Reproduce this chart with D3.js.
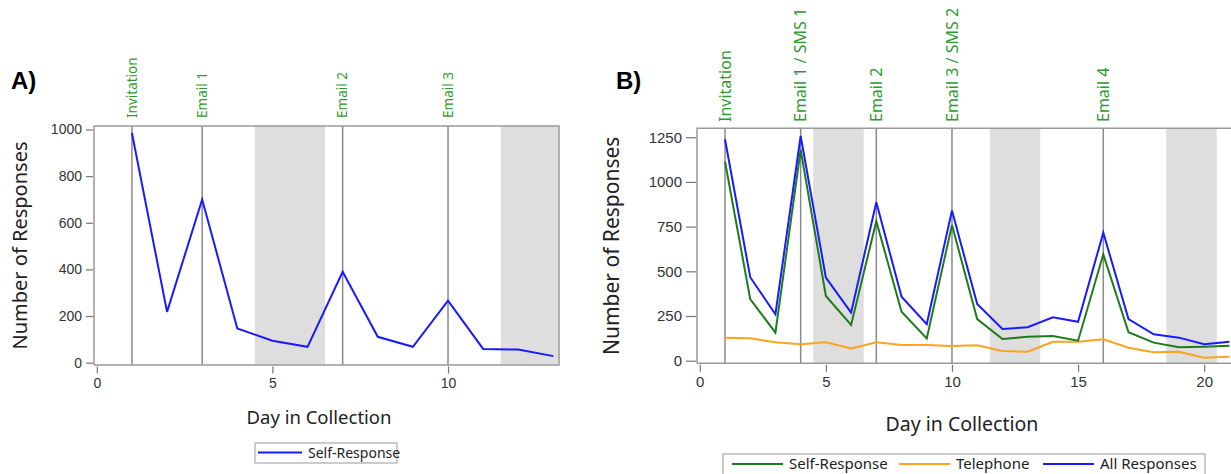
<!DOCTYPE html>
<html lang="en">
<head>
    <meta charset="UTF-8">
    <title>Responses by day in collection</title>
    <script src="https://cdn.jsdelivr.net/npm/d3@7"></script>
    <style>
        body { margin: 0; background: white; }
        svg { display: block; font-family: "Noto Sans", "Open Sans", sans-serif; }
        .tick text { fill: #333; }
        .event-label { fill: #2f9a2f; }
    </style>
</head>
<body>
<svg id="chart" width="1231" height="474"></svg>
<script>
    // panel A
    const daysA = [1, 2, 3, 4, 5, 6, 7, 8, 9, 10, 11, 12, 13];
    const selfA = [985, 218, 700, 147, 94, 68, 390, 111, 68, 266, 59, 56, 28];
    const eventDaysA = [1, 3, 7, 10];
    const eventNamesA = ['Invitation', 'Email 1', 'Email 2', 'Email 3'];
    const weekendsA = [[4.5, 6.5], [11.5, 13.5]];
    const yTicksA = [0, 200, 400, 600, 800, 1000];
    const xTicksA = [0, 5, 10];

    // panel B
    const daysB = d3.range(1, 22);
    const selfB = [1114, 345, 157, 1180, 362, 200, 780, 274, 125, 759, 233, 121, 134, 138, 112, 595, 159, 101, 75, 78, 84];
    const phoneB = [129, 125, 103, 92, 103, 69, 103, 88, 88, 82, 86, 54, 50, 106, 106, 120, 73, 47, 50, 17, 22];
    const allB = [1239, 467, 260, 1257, 465, 269, 886, 358, 205, 840, 317, 177, 187, 243, 218, 716, 233, 148, 129, 92, 106];
    const eventDaysB = [1, 4, 7, 10, 16];
    const eventNamesB = ['Invitation', 'Email 1 / SMS 1', 'Email 2', 'Email 3 / SMS 2', 'Email 4'];
    const weekendsB = [[4.5, 6.5], [11.5, 13.5], [18.5, 20.5]];
    const yTicksB = [0, 250, 500, 750, 1000, 1250];
    const xTicksB = [0, 5, 10, 15, 20];

    const svg = d3.select('#chart');

    function drawPanel(p) {
        const g = svg.append('g');
        const x = d3.scaleLinear().domain(p.xDomain).range(p.xRange);
        const y = d3.scaleLinear().domain(p.yDomain).range(p.yRange);
        const [x0, x1] = p.xRange;
        const [yb, yt] = p.yRange;

        g.append('clipPath').attr('id', p.id + '-clip')
            .append('rect').attr('x', x0).attr('y', yt).attr('width', x1 - x0).attr('height', yb - yt);

        // weekend shading
        g.selectAll('rect.band').data(p.bands).enter().append('rect')
            .attr('class', 'band')
            .attr('clip-path', `url(#${p.id}-clip)`)
            .attr('x', d => x(d[0]))
            .attr('width', d => x(d[1]) - x(d[0]))
            .attr('y', yt).attr('height', yb - yt)
            .attr('fill', '#dedede');

        // event lines
        g.selectAll('line.event').data(p.events).enter().append('line')
            .attr('x1', d => x(d)).attr('x2', d => x(d))
            .attr('y1', yt).attr('y2', yb)
            .attr('stroke', '#8a8a8a').attr('stroke-width', 1.5);

        g.selectAll('text.event-label').data(p.events).enter().append('text')
            .attr('class', 'event-label')
            .attr('transform', d => `translate(${x(d) + p.labelSize * 0.35},${p.labelBase}) rotate(-90)`)
            .attr('font-size', p.labelSize)
            .text((d, i) => p.eventNames[i]);

        // frame
        g.append('path')
            .attr('d', `M${x0},${yb}V${yt}H${x1}V${yb}H${x0}`)
            .attr('fill', 'none').attr('stroke', '#9a9a9a').attr('stroke-width', 1.5);

        // axes
        const yAxis = d3.axisLeft(y).tickValues(p.yTicks).tickFormat(d3.format('d'))
            .tickSize(p.tickLen).tickPadding(4);
        g.append('g').attr('transform', `translate(${x0 - 1},0)`).call(yAxis)
            .call(a => a.select('.domain').remove())
            .call(a => a.selectAll('.tick line').attr('stroke', '#777').attr('stroke-width', 1.2))
            .call(a => a.selectAll('text').attr('font-size', p.tickSize).attr('font-family', 'inherit'));

        const xAxis = d3.axisBottom(x).tickValues(p.xTicks).tickSize(7).tickPadding(5);
        g.append('g').attr('transform', `translate(0,${yb + 1.5})`).call(xAxis)
            .call(a => a.select('.domain').remove())
            .call(a => a.selectAll('.tick line').attr('stroke', '#777').attr('stroke-width', 1.2))
            .call(a => a.selectAll('text').attr('font-size', p.tickSize).attr('font-family', 'inherit'));

        // series
        const lineGen = d3.line().x(d => x(d[0])).y(d => y(d[1]));
        p.series.forEach(s => {
            g.append('path')
                .datum(p.days.map((d, i) => [d, s.values[i]]))
                .attr('clip-path', `url(#${p.id}-clip)`)
                .attr('d', lineGen)
                .attr('fill', 'none')
                .attr('stroke', s.color)
                .attr('stroke-width', 2)
                .attr('stroke-linejoin', 'miter');
        });

        // titles
        g.append('text').attr('x', p.tagX).attr('y', 89)
            .attr('font-size', 24).attr('font-weight', 'bold').attr('font-family', 'Arial, sans-serif')
            .text(p.tag);
        g.append('text')
            .attr('transform', `translate(${p.yTitleX},${(yt + yb) / 2}) rotate(-90)`)
            .attr('text-anchor', 'middle').attr('font-size', p.titleSize).attr('fill', '#222')
            .text('Number of Responses');
        g.append('text')
            .attr('x', p.xTitleX).attr('y', p.xTitleY)
            .attr('text-anchor', 'middle').attr('font-size', p.titleSize - 1.5).attr('fill', '#222')
            .text('Day in Collection');

        // legend
        const lg = g.append('g');
        lg.append('rect')
            .attr('x', p.legend.x).attr('y', p.legend.y)
            .attr('width', p.legend.w).attr('height', p.legend.h)
            .attr('fill', 'white').attr('stroke', '#aaa').attr('stroke-width', 1.2);
        p.legend.items.forEach(it => {
            lg.append('line')
                .attr('x1', it.x).attr('x2', it.x + p.legend.lineLen)
                .attr('y1', p.legend.y + p.legend.midY).attr('y2', p.legend.y + p.legend.midY)
                .attr('stroke', it.color).attr('stroke-width', 2.2);
            lg.append('text')
                .attr('x', it.x + p.legend.lineLen + 6)
                .attr('y', p.legend.y + p.legend.midY + 5)
                .attr('font-size', p.legend.fontSize).attr('fill', '#222')
                .text(it.name);
        });
    }

    drawPanel({
        id: 'a', tag: 'A)', tagX: 11,
        xDomain: [-0.08, 13.16], xRange: [94, 559],
        yDomain: [-10, 1015], yRange: [365, 126],
        days: daysA,
        series: [{values: selfA, color: '#1a1aff'}],
        events: eventDaysA, eventNames: eventNamesA,
        bands: weekendsA,
        yTicks: yTicksA, xTicks: xTicksA,
        labelBase: 118, labelSize: 13.5,
        tickSize: 14, tickLen: 7, titleSize: 20,
        yTitleX: 27, xTitleX: 319, xTitleY: 424,
        legend: {
            x: 255, y: 443, w: 142, h: 20, midY: 9.5, lineLen: 44, fontSize: 14,
            items: [{x: 258, color: '#1a1aff', name: 'Self-Response'}]
        }
    });

    drawPanel({
        id: 'b', tag: 'B)', tagX: 616,
        xDomain: [-0.11, 21.3], xRange: [697, 697 + 21.41 * 25.22],
        yDomain: [-14.5, 1300], yRange: [363.3, 128.3],
        days: daysB,
        series: [
            {values: phoneB, color: '#ffa21f'},
            {values: selfB, color: '#1e7b1e'},
            {values: allB, color: '#1a1aff'}
        ],
        events: eventDaysB, eventNames: eventNamesB,
        bands: weekendsB,
        yTicks: yTicksB, xTicks: xTicksB,
        labelBase: 122, labelSize: 16,
        tickSize: 15, tickLen: 10, titleSize: 21,
        yTitleX: 619, xTitleX: 962, xTitleY: 431,
        legend: {
            x: 723, y: 454, w: 482, h: 30, midY: 10, lineLen: 51, fontSize: 15,
            items: [
                {x: 732, color: '#1e7b1e', name: 'Self-Response'},
                {x: 899, color: '#ffa21f', name: 'Telephone'},
                {x: 1043, color: '#1a1aff', name: 'All Responses'}
            ]
        }
    });
</script>
</body>
</html>
